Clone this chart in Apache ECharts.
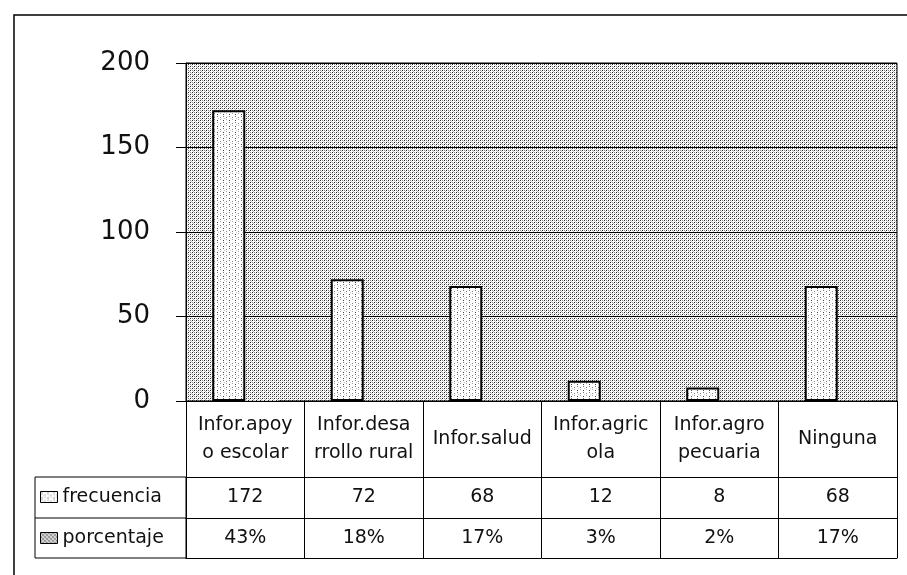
<!DOCTYPE html>
<html>
<head>
<meta charset="utf-8">
<script src="https://cdn.jsdelivr.net/npm/echarts@6/dist/echarts.min.js"></script>
<style>
  html, body { margin: 0; padding: 0; background: #fff; }
  #chart { width: 907px; height: 575px; }
</style>
</head>
<body>
<div id="chart"></div>
<script>
const categories = [
  "Infor.apoyo escolar",
  "Infor.desarrollo rural",
  "Infor.salud",
  "Infor.agricola",
  "Infor.agropecuaria",
  "Ninguna",
];
// how the labels wrap inside the table cells
const categoryLabels = [
  "Infor.apoy\no escolar",
  "Infor.desa\nrrollo rural",
  "Infor.salud",
  "Infor.agric\nola",
  "Infor.agro\npecuaria",
  "Ninguna",
];
const frecuencia = [172, 72, 68, 12, 8, 68];
const porcentaje = [43, 18, 17, 3, 2, 17];
const yTicks = { min: 0, max: 200, interval: 50 };

const FONT = "DejaVu Sans";

function makePattern(size, draw) {
  const c = document.createElement("canvas");
  c.width = size;
  c.height = size;
  const ctx = c.getContext("2d");
  ctx.fillStyle = "#fff";
  ctx.fillRect(0, 0, size, size);
  draw(ctx);
  return { image: c, repeat: "repeat" };
}

function dot(ctx, x, y, color) {
  ctx.fillStyle = color;
  ctx.fillRect(x, y, 1, 1);
}

// stippled plot background
const plotPattern = makePattern(4, (ctx) => {
  dot(ctx, 0, 0, "#222");
  dot(ctx, 2, 2, "#222");
  dot(ctx, 2, 0, "#888");
  dot(ctx, 0, 2, "#888");
  dot(ctx, 1, 3, "#bbb");
  dot(ctx, 3, 1, "#ccc");
});

// lighter dotted fill for the frecuencia bars
const barPattern = makePattern(6, (ctx) => {
  dot(ctx, 1, 0, "#444");
  dot(ctx, 1, 2, "#777");
  dot(ctx, 4, 3, "#888");
  dot(ctx, 4, 5, "#aaa");
  dot(ctx, 2, 4, "#ccc");
});

// cross pattern for porcentaje
const pctPattern = makePattern(4, (ctx) => {
  dot(ctx, 0, 0, "#333");
  dot(ctx, 1, 1, "#333");
  dot(ctx, 2, 2, "#333");
  dot(ctx, 3, 3, "#333");
  dot(ctx, 3, 1, "#555");
  dot(ctx, 1, 3, "#555");
});

const chart = echarts.init(document.getElementById("chart"));

const rowAxis = (offset, formatter, tickLen, showLabel) => ({
  type: "category",
  gridIndex: 0,
  position: "bottom",
  offset: offset,
  data: categories,
  boundaryGap: true,
  axisLine: { show: true, lineStyle: { color: "#000", width: 1 } },
  axisTick: {
    show: tickLen > 0,
    interval: 0,
    length: tickLen,
    lineStyle: { color: "#000", width: 1 },
  },
  axisLabel: {
    show: showLabel,
    interval: 0,
    margin: 20,
    verticalAlign: "middle",
    color: "#111",
    fontFamily: FONT,
    fontSize: 19,
    formatter: formatter,
  },
  splitLine: { show: false },
});

chart.setOption({
  animation: false,
  backgroundColor: "#fff",
  grid: {
    left: 186,
    right: 10,
    top: 63,
    bottom: 174,
    show: true,
    backgroundColor: plotPattern,
    borderColor: "#000",
    borderWidth: 1,
  },
  legend: {
    orient: "vertical",
    left: 40,
    top: 487,
    padding: 0,
    icon: "rect",
    itemWidth: 17,
    itemHeight: 11,
    itemGap: 21,
    selectedMode: false,
    itemStyle: { borderColor: "#000", borderWidth: 1 },
    textStyle: { color: "#111", fontFamily: FONT, fontSize: 19, lineHeight: 20 },
    data: ["frecuencia", "porcentaje"],
  },
  xAxis: [
    {
      type: "category",
      data: categories,
      boundaryGap: true,
      axisLine: { show: true, lineStyle: { color: "#000", width: 1 } },
      axisTick: { show: true, interval: 0, length: 76, lineStyle: { color: "#000" } },
      axisLabel: {
        interval: 0,
        margin: 38,
        verticalAlign: "middle",
        color: "#111",
        fontFamily: FONT,
        fontSize: 19,
        lineHeight: 28,
        formatter: (v, i) => categoryLabels[i],
      },
      splitLine: { show: false },
    },
    rowAxis(76, (v, i) => String(frecuencia[i]), 41, true),
    rowAxis(117, (v, i) => porcentaje[i] + "%", 40, true),
    rowAxis(157, () => "", 0, false),
  ],
  yAxis: {
    type: "value",
    min: yTicks.min,
    max: yTicks.max,
    interval: yTicks.interval,
    axisLine: { show: true, lineStyle: { color: "#000", width: 1 } },
    axisTick: { show: true, length: 10, lineStyle: { color: "#000" } },
    axisLabel: {
      margin: 36,
      color: "#111",
      fontFamily: FONT,
      fontSize: 26,
    },
    splitLine: { show: true, lineStyle: { color: "#000", width: 1 } },
  },
  series: [
    {
      name: "frecuencia",
      type: "bar",
      xAxisIndex: 0,
      data: frecuencia,
      barWidth: 33,
      barGap: "0%",
      itemStyle: { color: barPattern, borderColor: "#000", borderWidth: 2 },
    },
    {
      name: "porcentaje",
      type: "bar",
      xAxisIndex: 0,
      data: porcentaje.map((p) => p / 100),
      barWidth: 33,
      barGap: "0%",
      itemStyle: { color: pctPattern, borderWidth: 0 },
    },
  ],
  graphic: [
    {
      type: "rect",
      shape: { x: 14, y: 15, width: 1000, height: 1000 },
      style: { fill: null, stroke: "#000", lineWidth: 1.5 },
      silent: true,
    },
    {
      type: "rect",
      shape: { x: 35, y: 477, width: 151, height: 81 },
      style: { fill: null, stroke: "#000", lineWidth: 1 },
      silent: true,
    },
    {
      type: "line",
      shape: { x1: 35, y1: 518, x2: 186, y2: 518 },
      style: { stroke: "#000", lineWidth: 1 },
      silent: true,
    },
  ],
});

window.addEventListener("resize", () => chart.resize());
</script>
</body>
</html>
